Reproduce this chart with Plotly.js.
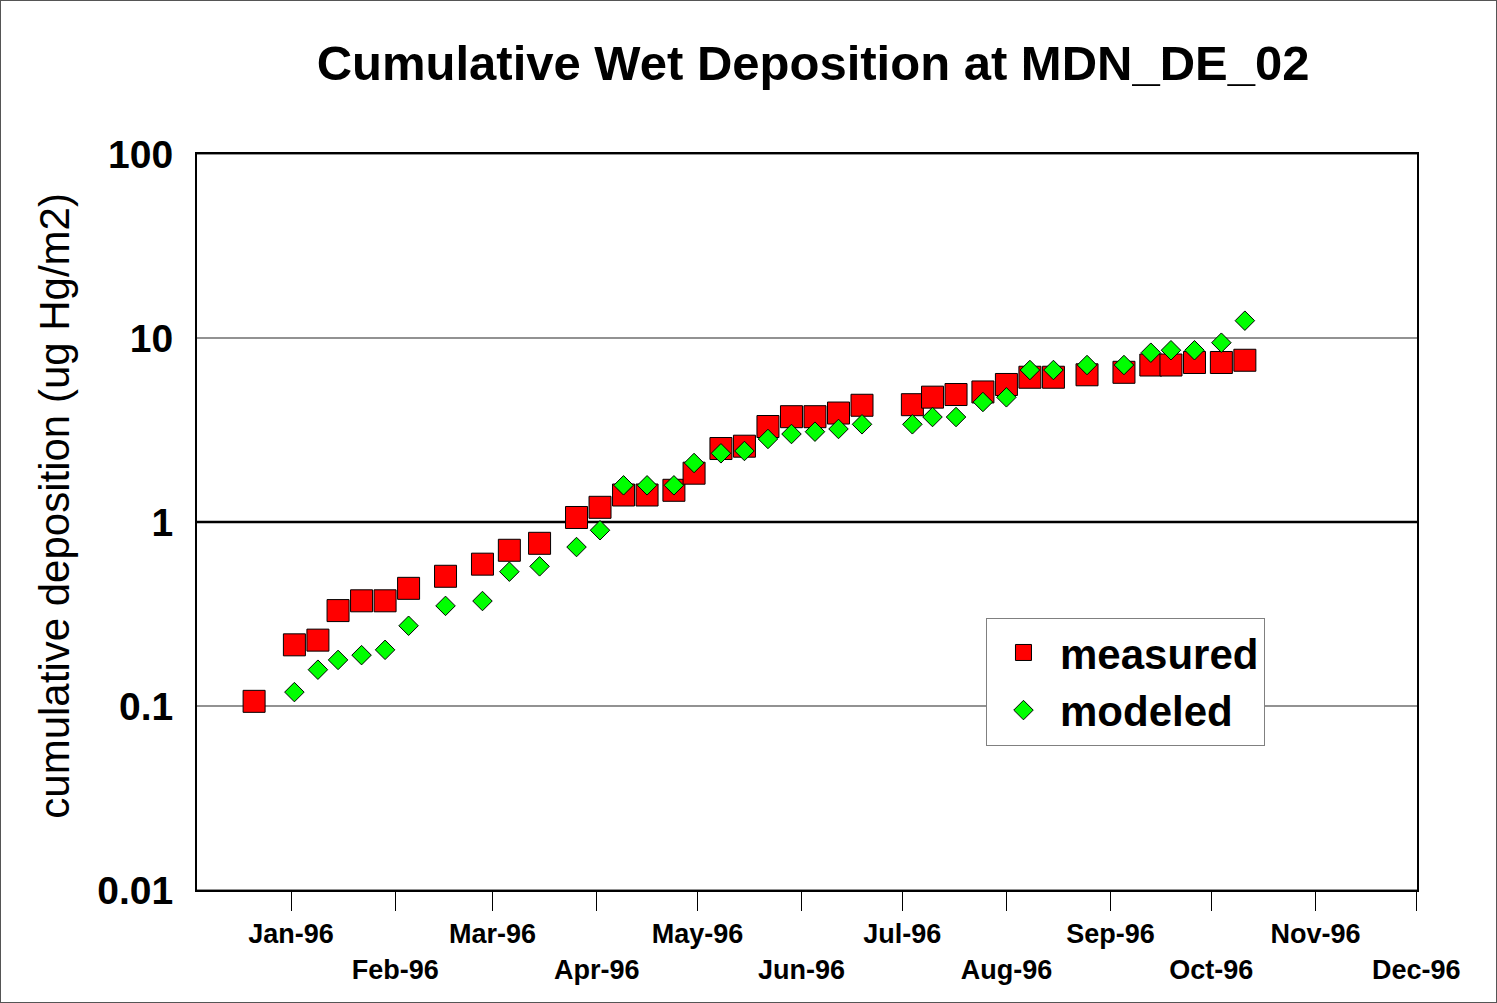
<!DOCTYPE html>
<html>
<head>
<meta charset="utf-8">
<script src="https://cdn.plot.ly/plotly-3.0.1.min.js"></script>
<style>
  html, body { margin: 0; padding: 0; background: #fff; }
  #wrap { position: relative; width: 1497px; height: 1003px; }
  #chart { width: 1497px; height: 1003px; }
  #frame { position: absolute; left: 0; top: 0; width: 1497px; height: 1003px;
           box-sizing: border-box; border: 1px solid #555; pointer-events: none; }
</style>
</head>
<body>
<div id="wrap"><div id="chart"></div><div id="frame"></div></div>
<script>
// ---- data ----
const sampleDates = [
  '1995-12-21','1996-01-02','1996-01-09','1996-01-15','1996-01-22','1996-01-29',
  '1996-02-05','1996-02-16','1996-02-27','1996-03-06','1996-03-15','1996-03-26',
  '1996-04-02','1996-04-09','1996-04-16','1996-04-24','1996-04-30','1996-05-08',
  '1996-05-15','1996-05-22','1996-05-29','1996-06-05','1996-06-12','1996-06-19',
  '1996-07-04','1996-07-10','1996-07-17','1996-07-25','1996-08-01','1996-08-08',
  '1996-08-15','1996-08-25','1996-09-05','1996-09-13','1996-09-19','1996-09-26',
  '1996-10-04','1996-10-11'
];
const measured = [
  0.106, 0.215, 0.228, 0.330, 0.373, 0.373,
  0.436, 0.507, 0.590, 0.702, 0.766, 1.058,
  1.202, 1.402, 1.402, 1.487, 1.842, 2.508,
  2.582, 3.304, 3.735, 3.735, 3.91, 4.31,
  4.34, 4.77, 4.93, 5.09, 5.59, 6.12,
  6.12, 6.31, 6.51, 7.13, 7.13, 7.36,
  7.36, 7.57
];
const modeled = [
  null, 0.119, 0.1575, 0.178, 0.189, 0.202,
  0.273, 0.350, 0.372, 0.537, 0.574, 0.731,
  0.902, 1.583, 1.583, 1.583, 2.093, 2.362,
  2.432, 2.826, 3.007, 3.096, 3.203, 3.396,
  3.396, 3.72, 3.72, 4.49, 4.76, 6.70,
  6.70, 7.13, 7.13, 8.32, 8.58, 8.58,
  9.43, 12.42
];
const monthTicks = ['1996-01-01','1996-02-01','1996-03-01','1996-04-01','1996-05-01','1996-06-01',
                    '1996-07-01','1996-08-01','1996-09-01','1996-10-01','1996-11-01','1996-12-01'];
const monthLabels = ['Jan-96','Feb-96','Mar-96','Apr-96','May-96','Jun-96',
                     'Jul-96','Aug-96','Sep-96','Oct-96','Nov-96','Dec-96'];
const yTickVals = [0.01, 0.1, 1, 10, 100];
const yTickText = ['0.01', '0.1', '1', '10', '100'];
const seriesNames = ['measured', 'modeled'];
const chartTitle = 'Cumulative Wet Deposition at MDN_DE_02';
const yTitle = 'cumulative deposition (ug Hg/m2)';

// alternate labels on two rows
const monthTickText = monthLabels.map((t, i) => (i % 2 === 0 ? t : '<br>' + t));

const FONT = 'Liberation Sans, Arial, Helvetica, sans-serif';

// horizontal gridlines at each decade tick; the line at 1 is emphasised (black)
const gridShapes = yTickVals.map(v => ({
  type: 'line', xref: 'paper', x0: 0, x1: 1, yref: 'y', y0: v, y1: v,
  line: v === 1 ? { color: '#000', width: 2.5 } : { color: '#6e6e6e', width: 1.5 },
  layer: 'below'
}));

const traces = [
  {
    type: 'scatter', mode: 'markers', name: seriesNames[0],
    x: sampleDates, y: measured,
    marker: { symbol: 'square', size: 22, color: '#FF0000', line: { color: '#000', width: 1 } }
  },
  {
    type: 'scatter', mode: 'markers', name: seriesNames[1],
    x: sampleDates, y: modeled,
    marker: { symbol: 'diamond', size: 15, color: '#00FF00', line: { color: '#000', width: 1 } }
  }
];

const layout = {
  width: 1497, height: 1003,
  margin: { l: 197, r: 80, t: 154, b: 113 },
  paper_bgcolor: '#fff', plot_bgcolor: '#fff',
  showlegend: true,
  title: {
    text: chartTitle,
    font: { family: FONT, size: 49, color: '#000', weight: 'bold' },
    xref: 'paper', x: 0.505, xanchor: 'center',
    yref: 'container', y: 0.937, yanchor: 'middle'
  },
  xaxis: {
    type: 'date',
    range: ['1995-12-04', '1996-12-01 06:00'],
    tickmode: 'array', tickvals: monthTicks, ticktext: monthTickText,
    ticks: 'outside', ticklen: 19, tickwidth: 1, tickcolor: '#000',
    tickfont: { family: FONT, size: 27, color: '#000', weight: 'bold' },
    showgrid: false, zeroline: false,
    showline: true, linecolor: '#000', linewidth: 2, mirror: true
  },
  yaxis: {
    type: 'log', range: [-2, 2],
    tickmode: 'array', tickvals: yTickVals, ticktext: yTickText,
    ticks: '', ticklabelstandoff: 14,
    tickfont: { family: FONT, size: 39, color: '#000', weight: 'bold' },
    showgrid: false,
    showline: true, linecolor: '#000', linewidth: 2, mirror: true,
    zeroline: false
  },
  annotations: [
    { text: yTitle, textangle: -90, showarrow: false,
      xref: 'paper', x: -0.1175, xanchor: 'center',
      yref: 'paper', y: 0.5217, yanchor: 'middle',
      font: { family: FONT, size: 42, color: '#000' } }
  ],
  shapes: gridShapes,
  legend: {
    x: 0.6467, y: 0.370, xanchor: 'left', yanchor: 'top',
    bgcolor: '#fff', bordercolor: '#808080', borderwidth: 1,
    font: { family: FONT, size: 42, color: '#000', weight: 'bold' },
    itemwidth: 63,
    tracegroupgap: 0
  }
};

Plotly.newPlot('chart', traces, layout, { displayModeBar: false, staticPlot: true });
</script>
</body>
</html>
